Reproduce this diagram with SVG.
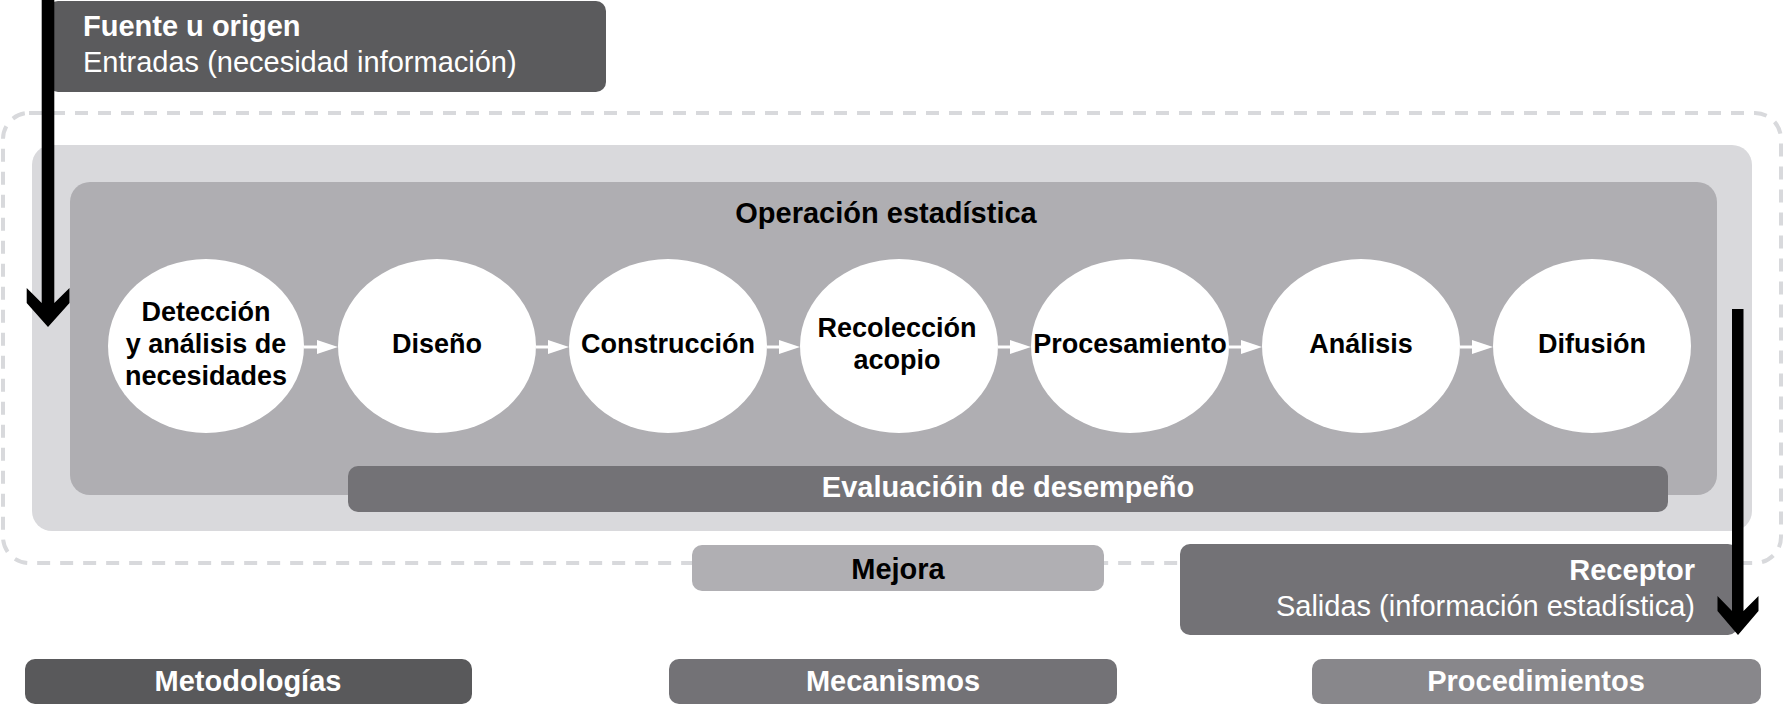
<svg xmlns="http://www.w3.org/2000/svg" width="1784" height="705" viewBox="0 0 1784 705">
<style>
  text { font-family: "Liberation Sans", Arial, Helvetica, sans-serif; }
  .b { font-weight: bold; }
  .w { fill: #ffffff; }
  .k { fill: #000000; }
  .t29 { font-size: 29px; }
  .t27 { font-size: 27px; }
  .mid { text-anchor: middle; }
  .end { text-anchor: end; }
  .ell { fill: #ffffff; }
  .flow { stroke: #ffffff; stroke-width: 3; fill: none; }
  .big { fill: #000000; }
</style>
<defs>
  <marker id="wh" markerUnits="userSpaceOnUse" markerWidth="22" markerHeight="14" refX="0" refY="7" orient="auto">
    <path d="M0,0 L21,7 L0,14 Z" fill="#ffffff"/>
  </marker>
</defs>
<rect width="1784" height="705" fill="#ffffff"/>

<g id="outer-dashed">
  <rect x="3" y="113" width="1778" height="450" rx="26" ry="26" fill="none" stroke="#d8d9dc" stroke-width="4" stroke-dasharray="13 10"/>
</g>
<g id="process-frame">
  <rect x="32" y="145" width="1720" height="386" rx="20" ry="20" fill="#d9d9dc"/>
</g>
<g id="operacion">
  <rect x="70" y="182" width="1647" height="313" rx="20" ry="20" fill="#afaeb2"/>
  <text class="b k t29 mid" x="886" y="223">Operación estadística</text>
</g>
<g id="evaluacion">
  <rect x="348" y="466" width="1320" height="46" rx="10" ry="10" fill="#737276"/>
  <text class="b w t29 mid" x="1008" y="497">Evaluacióin de desempeño</text>
</g>

<g id="fuente">
  <rect x="48" y="1" width="558" height="91" rx="10" ry="10" fill="#5b5b5d"/>
  <text class="b w t29" x="83" y="36">Fuente u origen</text>
  <text class="w t29" x="83" y="72">Entradas (necesidad información)</text>
</g>

<g id="n1">
  <ellipse class="ell" cx="206" cy="346" rx="98" ry="87"/>
  <text class="b k t27 mid" x="206" y="321">Detección</text>
  <text class="b k t27 mid" x="206" y="353">y análisis de</text>
  <text class="b k t27 mid" x="206" y="385">necesidades</text>
</g>
<g id="n2">
  <ellipse class="ell" cx="437" cy="346" rx="99" ry="87"/>
  <text class="b k t27 mid" x="437" y="353">Diseño</text>
</g>
<g id="n3">
  <ellipse class="ell" cx="668" cy="346" rx="99" ry="87"/>
  <text class="b k t27 mid" x="668" y="353">Construcción</text>
</g>
<g id="n4">
  <ellipse class="ell" cx="899" cy="346" rx="99" ry="87"/>
  <text class="b k t27 mid" x="897" y="337">Recolección</text>
  <text class="b k t27 mid" x="897" y="369">acopio</text>
</g>
<g id="n5">
  <ellipse class="ell" cx="1130" cy="346" rx="99" ry="87"/>
  <text class="b k t27 mid" x="1130" y="353">Procesamiento</text>
</g>
<g id="n6">
  <ellipse class="ell" cx="1361" cy="346" rx="99" ry="87"/>
  <text class="b k t27 mid" x="1361" y="353">Análisis</text>
</g>
<g id="n7">
  <ellipse class="ell" cx="1592" cy="346" rx="99" ry="87"/>
  <text class="b k t27 mid" x="1592" y="353">Difusión</text>
</g>

<g id="mejora">
  <rect x="692" y="545" width="412" height="46" rx="10" ry="10" fill="#b0afb3"/>
  <text class="b k t29 mid" x="898" y="579">Mejora</text>
</g>
<g id="receptor">
  <rect x="1180" y="544" width="558" height="91" rx="10" ry="10" fill="#737276"/>
  <text class="b w t29 end" x="1695" y="580">Receptor</text>
  <text class="w t29 end" x="1695" y="616">Salidas (información estadística)</text>
</g>

<g id="metodologias">
  <rect x="25" y="659" width="447" height="45" rx="10" ry="10" fill="#59595b"/>
  <text class="b w t29 mid" x="248" y="691">Metodologías</text>
</g>
<g id="mecanismos">
  <rect x="669" y="659" width="448" height="45" rx="10" ry="10" fill="#737276"/>
  <text class="b w t29 mid" x="893" y="691">Mecanismos</text>
</g>
<g id="procedimientos">
  <rect x="1312" y="659" width="449" height="45" rx="10" ry="10" fill="#88878b"/>
  <text class="b w t29 mid" x="1536" y="691">Procedimientos</text>
</g>

<g id="connectors">
  <line class="flow" x1="304" y1="347" x2="317" y2="347" marker-end="url(#wh)"/>
  <line class="flow" x1="536" y1="347" x2="548" y2="347" marker-end="url(#wh)"/>
  <line class="flow" x1="767" y1="347" x2="779" y2="347" marker-end="url(#wh)"/>
  <line class="flow" x1="998" y1="347" x2="1010" y2="347" marker-end="url(#wh)"/>
  <line class="flow" x1="1229" y1="347" x2="1241" y2="347" marker-end="url(#wh)"/>
  <line class="flow" x1="1460" y1="347" x2="1472" y2="347" marker-end="url(#wh)"/>
  <polygon class="big" points="41.7,0 41.7,303 26.7,288 26.7,303 48,327 69.5,303 69.5,288 54.3,303 54.3,0"/>
  <polygon class="big" points="1732,309 1732,611 1717.5,596 1717.5,611 1738,635 1758.5,611 1758.5,596 1743.5,611 1743.5,309"/>
</g>
</svg>
